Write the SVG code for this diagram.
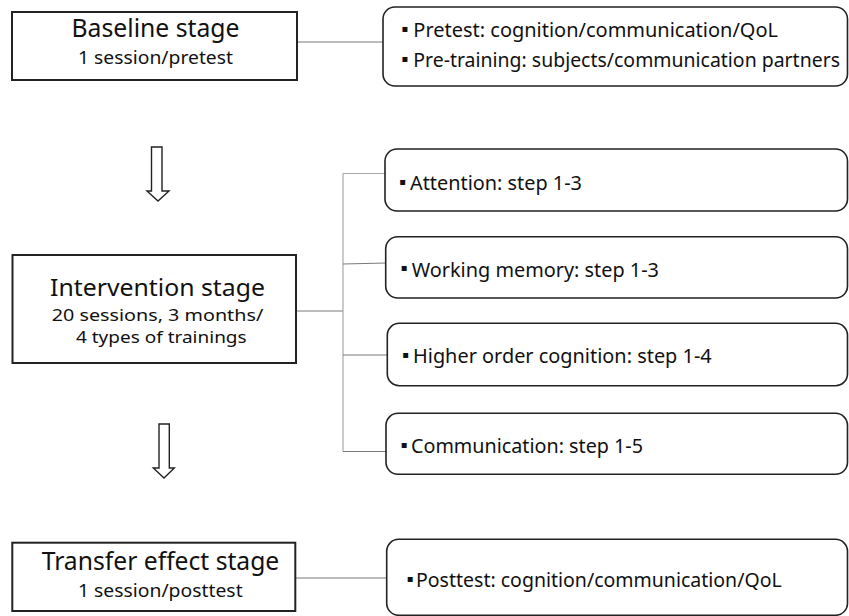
<svg xmlns="http://www.w3.org/2000/svg" width="849" height="616" viewBox="0 0 849 616">
<style>
.stage{fill:#fff;stroke:#222;stroke-width:2}
.item{fill:#fff;stroke:#222;stroke-width:1.6}
.t{font-family:"Noto Sans","Open Sans","DejaVu Sans",sans-serif;fill:#111}
.it{font-size:19.5px}
.b{font-family:"DejaVu Sans",sans-serif;font-size:10px;fill:#111}
.conn{stroke:#7a7a7a;stroke-width:1.2;fill:none}
.trunk{stroke:#a8a8a8;stroke-width:1.2;fill:none}
.arrow{fill:#fff;stroke:#222;stroke-width:1.4;stroke-linejoin:miter}
</style>
<rect width="849" height="616" fill="#fff"/>
<g id="connectors">
<line class="conn" x1="297" y1="42" x2="383" y2="42"/>
<line class="conn" x1="296" y1="311" x2="343" y2="311"/>
<line class="trunk" x1="343" y1="173.5" x2="343" y2="451.5"/>
<line class="trunk" x1="343" y1="173.5" x2="385" y2="173.5"/>
<line class="conn" x1="343" y1="264" x2="386" y2="263"/>
<line class="conn" x1="343" y1="355" x2="387" y2="355"/>
<line class="conn" x1="343" y1="451.5" x2="386" y2="451.5"/>
<line class="conn" x1="296" y1="578" x2="387" y2="578"/>
<polygon class="arrow" points="151.5,147 162,147 162,191 169,191 158,201 147,191 151.5,191"/>
<polygon class="arrow" points="159,424 169.3,424 169.3,468 174.3,468 164,478 153.3,468 159,468"/>
</g>
<g id="baseline">
<rect class="stage" x="12" y="12" width="285" height="68"/>
<text class="t" font-size="25" x="155.5" y="37" text-anchor="middle" textLength="168" lengthAdjust="spacingAndGlyphs">Baseline stage</text>
<text class="t" font-size="18.5" x="155.5" y="64" text-anchor="middle" textLength="155" lengthAdjust="spacingAndGlyphs">1 session/pretest</text>
</g>
<g id="baseline-detail">
<rect class="item" x="383" y="7" width="464.5" height="79" rx="12"/>
<text class="b" x="401.5" y="31.5">▪</text>
<text class="t it" x="413.3" y="37" textLength="364.7" lengthAdjust="spacingAndGlyphs">Pretest: cognition/communication/QoL</text>
<text class="b" x="401.5" y="61.5">▪</text>
<text class="t it" x="413.3" y="67" textLength="426.7" lengthAdjust="spacingAndGlyphs">Pre-training: subjects/communication partners</text>
</g>
<g id="intervention">
<rect class="stage" x="12.5" y="255" width="283.5" height="108"/>
<text class="t" font-size="24" x="157.5" y="295.5" text-anchor="middle" textLength="215" lengthAdjust="spacingAndGlyphs">Intervention stage</text>
<text class="t" font-size="16" x="157.5" y="321" text-anchor="middle" textLength="211.5" lengthAdjust="spacingAndGlyphs">20 sessions, 3 months/</text>
<text class="t" font-size="16" x="161.3" y="343" text-anchor="middle" textLength="170.7" lengthAdjust="spacingAndGlyphs">4 types of trainings</text>
</g>
<g id="attention">
<rect class="item" x="385" y="149" width="462.5" height="62" rx="12"/>
<text class="b" x="399.3" y="184.5">▪</text>
<text class="t it" x="410" y="190" textLength="172" lengthAdjust="spacingAndGlyphs">Attention: step 1-3</text>
</g>
<g id="working-memory">
<rect class="item" x="385.7" y="236.7" width="461.8" height="61.3" rx="12"/>
<text class="b" x="400.7" y="271.2">▪</text>
<text class="t it" x="411.7" y="276.7" textLength="247.3" lengthAdjust="spacingAndGlyphs">Working memory: step 1-3</text>
</g>
<g id="higher-order">
<rect class="item" x="387.3" y="323.3" width="460.2" height="62.4" rx="12"/>
<text class="b" x="402.3" y="357.5">▪</text>
<text class="t it" x="413" y="363" textLength="298.7" lengthAdjust="spacingAndGlyphs">Higher order cognition: step 1-4</text>
</g>
<g id="communication">
<rect class="item" x="386" y="413.3" width="461.5" height="61" rx="12"/>
<text class="b" x="400.7" y="447.5">▪</text>
<text class="t it" x="411" y="453" textLength="232" lengthAdjust="spacingAndGlyphs">Communication: step 1-5</text>
</g>
<g id="transfer">
<rect class="stage" x="12.3" y="542.7" width="283" height="68.3"/>
<text class="t" font-size="25" x="160.5" y="569.5" text-anchor="middle" textLength="237.6" lengthAdjust="spacingAndGlyphs">Transfer effect stage</text>
<text class="t" font-size="18.5" x="160.3" y="596.5" text-anchor="middle" textLength="164.7" lengthAdjust="spacingAndGlyphs">1 session/posttest</text>
</g>
<g id="transfer-detail">
<rect class="item" x="386.7" y="539.3" width="460.8" height="76" rx="12"/>
<text class="b" x="406.8" y="581.5">▪</text>
<text class="t it" x="416" y="587" textLength="365.7" lengthAdjust="spacingAndGlyphs">Posttest: cognition/communication/QoL</text>
</g>
</svg>
